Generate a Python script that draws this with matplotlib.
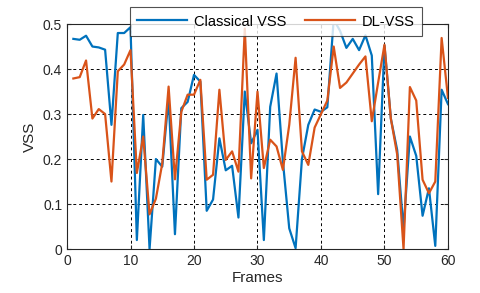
import matplotlib
matplotlib.use("Agg")
import matplotlib.pyplot as plt

frames = list(range(1, 61))
classical_vss = [
    0.467, 0.465, 0.474, 0.450, 0.448, 0.443, 0.276, 0.480, 0.480, 0.493,
    0.020, 0.298, 0.000, 0.200, 0.183, 0.336, 0.033, 0.313, 0.327, 0.387,
    0.372, 0.085, 0.110, 0.246, 0.175, 0.185, 0.070, 0.350, 0.235, 0.265,
    0.020, 0.316, 0.390, 0.195, 0.046, 0.002, 0.200, 0.276, 0.310, 0.305,
    0.315, 0.510, 0.485, 0.447, 0.467, 0.442, 0.475, 0.430, 0.122, 0.452,
    0.290, 0.220, 0.045, 0.250, 0.207, 0.074, 0.135, 0.007, 0.354, 0.322,
]
dl_vss = [
    0.379, 0.382, 0.419, 0.290, 0.311, 0.300, 0.150, 0.395, 0.410, 0.442,
    0.169, 0.250, 0.077, 0.112, 0.190, 0.361, 0.155, 0.305, 0.343, 0.343,
    0.376, 0.154, 0.165, 0.354, 0.198, 0.217, 0.172, 0.490, 0.157, 0.350,
    0.180, 0.243, 0.228, 0.176, 0.276, 0.425, 0.217, 0.187, 0.270, 0.300,
    0.330, 0.450, 0.358, 0.370, 0.390, 0.410, 0.428, 0.284, 0.370, 0.454,
    0.290, 0.210, 0.000, 0.360, 0.330, 0.154, 0.124, 0.150, 0.469, 0.336,
]
x_ticks = [0, 10, 20, 30, 40, 50, 60]
y_ticks = [0, 0.1, 0.2, 0.3, 0.4, 0.5]
y_labels = ["0", "0.1", "0.2", "0.3", "0.4", "0.5"]

plt.rcParams["font.family"] = ["Liberation Sans", "DejaVu Sans"]

fig = plt.figure(figsize=(4.8, 2.93), dpi=100)
ax = fig.add_axes([0.1396, 0.150, 0.7937, 0.768])

ax.plot(frames, classical_vss, color="#0072BD", lw=1.6, label="Classical VSS")
ax.plot(frames, dl_vss, color="#D95319", lw=1.6, label="DL-VSS")

ax.set_xlim(0, 60)
ax.set_ylim(0, 0.5)
ax.set_xticks(x_ticks)
ax.set_yticks(y_ticks)
ax.set_yticklabels(y_labels)
ax.tick_params(direction="in", labelsize=10, length=3, color="#262626",
               labelcolor="#262626", top=True, right=True)
ax.grid(True, color="black", linestyle=(0, (3, 3)), lw=0.7)
for s in ax.spines.values():
    s.set_color("#262626")
    s.set_linewidth(0.8)

ax.set_xlabel("Frames", fontsize=11, color="#262626", labelpad=2)
ax.set_ylabel("VSS", fontsize=11, color="#262626", labelpad=4)

leg = fig.legend(loc="upper center", bbox_to_anchor=(0.575, 0.985), ncol=2,
                 fontsize=10.5, frameon=True, fancybox=False, handlelength=3.4,
                 columnspacing=1.3, borderpad=0.5, handletextpad=0.5,
                 borderaxespad=0.2)
leg.get_frame().set_edgecolor("#262626")
leg.get_frame().set_linewidth(0.8)

fig.savefig("out.png", dpi=100)
